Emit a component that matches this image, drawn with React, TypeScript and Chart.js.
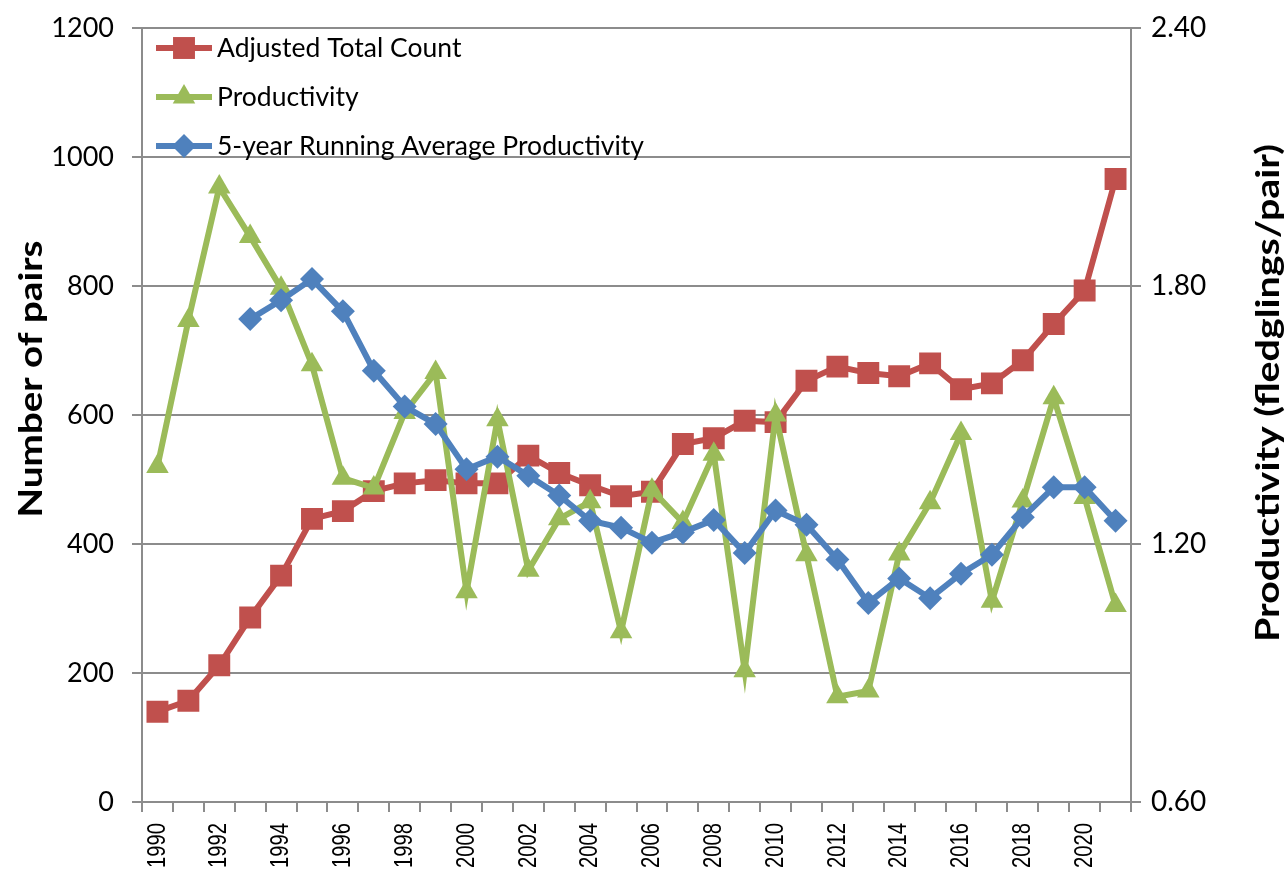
import React, { useEffect, useRef } from "react";
import { Chart, registerables } from "chart.js";

Chart.register(...registerables);

const years = [
  1990, 1991, 1992, 1993, 1994, 1995, 1996, 1997, 1998, 1999, 2000, 2001, 2002, 2003, 2004, 2005,
  2006, 2007, 2008, 2009, 2010, 2011, 2012, 2013, 2014, 2015, 2016, 2017, 2018, 2019, 2020, 2021,
];
const adjustedTotalCount = [
  140, 157, 212, 286, 351, 439, 451, 482, 494, 499, 494, 494, 537, 510, 491, 474,
  481, 555, 564, 591, 589, 653, 675, 665, 660, 680, 640, 649, 685, 741, 793, 966,
];
const productivity = [
  1.38, 1.72, 2.03, 1.915, 1.795, 1.617, 1.353, 1.33, 1.506, 1.599, 1.089, 1.489, 1.139, 1.259, 1.298, 0.996,
  1.325, 1.25, 1.409, 0.905, 1.5, 1.175, 0.845, 0.858, 1.177, 1.296, 1.457, 1.067, 1.3, 1.54, 1.308, 1.057,
];
const runningAverageProductivity = [
  null, null, null, 1.723, 1.767, 1.816, 1.741, 1.603, 1.52, 1.479, 1.374, 1.403, 1.359, 1.313, 1.254, 1.238,
  1.203, 1.227, 1.256, 1.179, 1.278, 1.245, 1.164, 1.063, 1.12, 1.074, 1.131, 1.175, 1.262, 1.332, 1.332, 1.254,
];
const xTickLabels = years.map((y, i) => (i % 2 === 0 ? String(y) : ""));
const leftAxisTicks = [0, 200, 400, 600, 800, 1000, 1200];
const rightAxisTicks = [0.6, 1.2, 1.8, 2.4];
const seriesNames = ["Adjusted Total Count", "Productivity", "5-year Running Average Productivity"];
const leftAxisTitle = "Number of pairs";
const rightAxisTitle = "Productivity (fledglings/pair)";

const RED = "#C0504D";
const GREEN = "#9BBB59";
const BLUE = "#4F81BD";
const GRID = "#8C8C8C";
const W = 1288;
const H = 886;
const PLOT_LEFT = 142;
const PLOT_RIGHT = 1131;
const PLOT_TOP = 28;
const PLOT_BOTTOM = 802;
const LINE_W = 6;
const RECT_R = 15.5;
const TRI_R = 13;
const DIAM_R = 12;

function drawMarker(ctx: CanvasRenderingContext2D, style: string, x: number, y: number, color: string) {
  ctx.fillStyle = color;
  ctx.beginPath();
  if (style === "rect") {
    const s = RECT_R * Math.SQRT1_2;
    ctx.rect(x - s, y - s, 2 * s, 2 * s);
  } else if (style === "triangle") {
    const r = TRI_R;
    ctx.moveTo(x, y - r);
    ctx.lineTo(x + r * Math.sin((2 * Math.PI) / 3), y - r * Math.cos((2 * Math.PI) / 3));
    ctx.lineTo(x + r * Math.sin((4 * Math.PI) / 3), y - r * Math.cos((4 * Math.PI) / 3));
  } else {
    const r = DIAM_R;
    ctx.moveTo(x, y - r);
    ctx.lineTo(x + r, y);
    ctx.lineTo(x, y + r);
    ctx.lineTo(x - r, y);
  }
  ctx.closePath();
  ctx.fill();
}

function drawVerticalTitle(ctx: CanvasRenderingContext2D, text: string, cx: number, cy: number, length: number) {
  ctx.save();
  ctx.fillStyle = "#000";
  ctx.font = "bold 33px Lato";
  ctx.textAlign = "center";
  ctx.textBaseline = "middle";
  ctx.translate(cx, cy);
  ctx.rotate(-Math.PI / 2);
  const w = ctx.measureText(text).width;
  ctx.scale(length / w, 1);
  ctx.fillText(text, 0, 0);
  ctx.restore();
}

const overlayPlugin = {
  id: "overlay",
  afterDraw(chart: any) {
    const ctx: CanvasRenderingContext2D = chart.ctx;
    const area = chart.chartArea;
    drawVerticalTitle(ctx, leftAxisTitle, 31, 379, 277);
    drawVerticalTitle(ctx, rightAxisTitle, 1268, 393, 498);

    // category labels of the x axis, placed at the scale's own tick pixels
    const xs = chart.scales.x;
    ctx.save();
    ctx.fillStyle = "#000";
    ctx.font = "26px 'Liberation Sans', Arial, sans-serif";
    ctx.textAlign = "right";
    ctx.textBaseline = "middle";
    for (let i = 0; i < xTickLabels.length; i++) {
      if (!xTickLabels[i]) continue;
      const px = xs.getPixelForTick(i);
      ctx.save();
      ctx.translate(px, xs.top + 21);
      ctx.rotate(-Math.PI / 2);
      const w = ctx.measureText(xTickLabels[i]).width;
      ctx.scale(45 / w, 1);
      ctx.fillText(xTickLabels[i], 0, 0);
      ctx.restore();
    }
    ctx.restore();

    const styles = ["rect", "triangle", "rectRot"];
    const colors = [RED, GREEN, BLUE];
    ctx.save();
    for (let i = 0; i < seriesNames.length; i++) {
      const y = area.top + 20 + i * 49;
      const x0 = area.left + 14;
      const x1 = area.left + 70;
      ctx.strokeStyle = colors[i];
      ctx.lineWidth = LINE_W;
      ctx.beginPath();
      ctx.moveTo(x0, y);
      ctx.lineTo(x1, y);
      ctx.stroke();
      drawMarker(ctx, styles[i], (x0 + x1) / 2, y, colors[i]);
      ctx.fillStyle = "#000";
      ctx.font = "26.5px Lato";
      ctx.textAlign = "left";
      ctx.textBaseline = "middle";
      ctx.fillText(seriesNames[i], area.left + 75, y);
    }
    ctx.restore();
  },
};

export default function App() {
  const canvasRef = useRef<HTMLCanvasElement | null>(null);

  useEffect(() => {
    const canvas = canvasRef.current;
    if (!canvas) return;
    const chart = new Chart(canvas, {
      type: "line",
      data: {
        labels: years.map(String),
        datasets: [
          {
            label: seriesNames[0],
            data: adjustedTotalCount,
            yAxisID: "y",
            borderColor: RED,
            backgroundColor: RED,
            borderWidth: LINE_W,
            pointStyle: "rect",
            pointRadius: RECT_R,
            pointBorderWidth: 0,
            pointBackgroundColor: RED,
            tension: 0,
            order: 3,
          },
          {
            label: seriesNames[1],
            data: productivity,
            yAxisID: "y1",
            borderColor: GREEN,
            backgroundColor: GREEN,
            borderWidth: LINE_W,
            pointStyle: "triangle",
            pointRadius: TRI_R,
            pointBorderWidth: 0,
            pointBackgroundColor: GREEN,
            tension: 0,
            order: 2,
          },
          {
            label: seriesNames[2],
            data: runningAverageProductivity,
            yAxisID: "y1",
            borderColor: BLUE,
            backgroundColor: BLUE,
            borderWidth: LINE_W,
            pointStyle: "rectRot",
            pointRadius: DIAM_R,
            pointBorderWidth: 0,
            pointBackgroundColor: BLUE,
            tension: 0,
            spanGaps: false,
            order: 1,
          },
        ],
      },
      options: {
        responsive: false,
        animation: false,
        layout: { autoPadding: false, padding: { top: PLOT_TOP, left: 0, right: 0, bottom: 0 } },
        plugins: {
          legend: { display: false },
          tooltip: { enabled: false },
          title: { display: false },
        },
        scales: {
          x: {
            type: "category",
            offset: true,
            grid: {
              offset: true,
              drawOnChartArea: false,
              drawTicks: true,
              tickLength: 10,
              color: GRID,
              lineWidth: 2,
            },
            border: { color: GRID, width: 2 },
            ticks: {
              display: false,
              autoSkip: false,
            },
            afterFit: (scale: any) => {
              scale.height = H - PLOT_BOTTOM;
              scale.paddingLeft = 0;
              scale.paddingRight = 0;
            },
          },
          y: {
            type: "linear",
            position: "left",
            min: 0,
            max: 1200,
            grid: { color: GRID, lineWidth: 2, tickLength: 10, drawTicks: true },
            border: { color: GRID, width: 2 },
            ticks: {
              color: "#000",
              padding: 18,
              font: { family: "Lato", size: 27 },
              callback: (value: any) => String(value),
            },
            afterBuildTicks: (scale: any) => {
              scale.ticks = leftAxisTicks.map((v) => ({ value: v }));
            },
            afterFit: (scale: any) => {
              scale.width = PLOT_LEFT;
              scale.paddingTop = 0;
              scale.paddingBottom = 0;
            },
          },
          y1: {
            type: "linear",
            position: "right",
            min: 0.6,
            max: 2.4,
            grid: { drawOnChartArea: false, color: GRID, lineWidth: 2, tickLength: 10, drawTicks: true },
            border: { color: GRID, width: 2 },
            ticks: {
              color: "#000",
              padding: 10,
              font: { family: "Lato", size: 28 },
              callback: (value: any) => Number(value).toFixed(2),
            },
            afterBuildTicks: (scale: any) => {
              scale.ticks = rightAxisTicks.map((v) => ({ value: v }));
            },
            afterFit: (scale: any) => {
              scale.width = W - PLOT_RIGHT;
              scale.paddingTop = 0;
              scale.paddingBottom = 0;
            },
          },
        },
      },
      plugins: [overlayPlugin],
    });
    return () => chart.destroy();
  }, []);

  return (
    <div style={{ position: "fixed", left: 0, top: 0, width: W, height: H, background: "#fff" }}>
      <canvas ref={canvasRef} width={W} height={H} style={{ display: "block" }} />
    </div>
  );
}
